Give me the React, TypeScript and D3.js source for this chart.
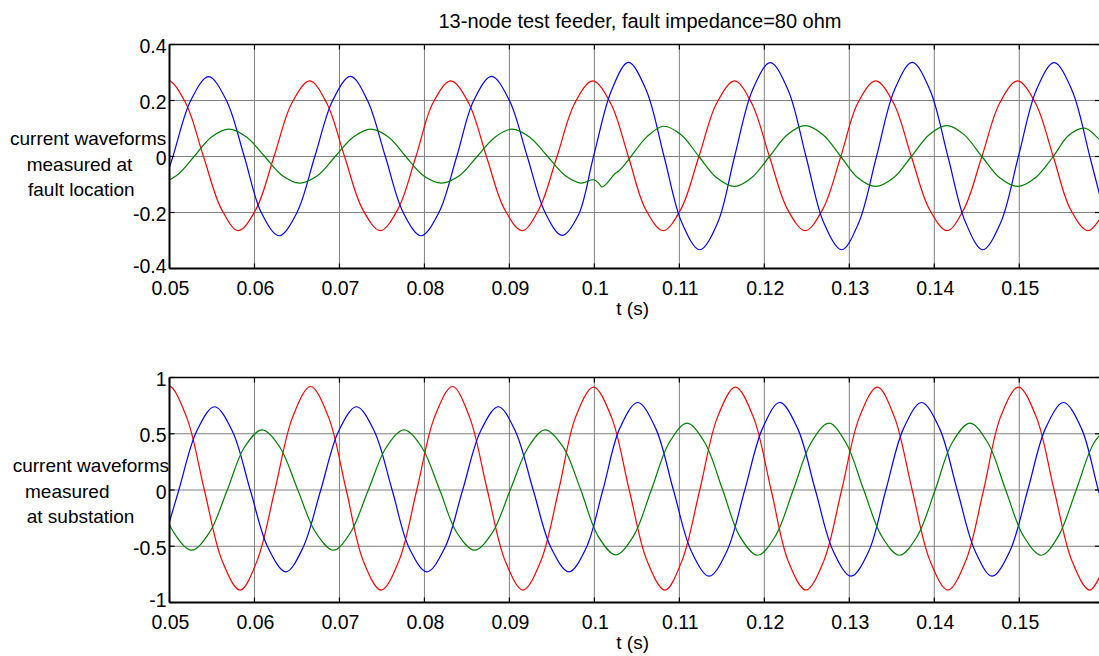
import * as d3 from "d3";

// time axis (s)
const xTicks = [0.05, 0.06, 0.07, 0.08, 0.09, 0.1, 0.11, 0.12, 0.13, 0.14, 0.15];
const xTickLabels = ["0.05", "0.06", "0.07", "0.08", "0.09", "0.1", "0.11", "0.12", "0.13", "0.14", "0.15"];
const xDomain = [0.05, 0.1595];

const topYTicks = [-0.4, -0.2, 0, 0.2, 0.4];
const topYLabels = ["-0.4", "-0.2", "0", "0.2", "0.4"];
const botYTicks = [-1, -0.5, 0, 0.5, 1];
const botYLabels = ["-1", "-0.5", "0", "0.5", "1"];

const title = "13-node test feeder, fault impedance=80 ohm";
const xLabel = "t (s)";
const topYLabel = ["current waveforms", "measured at", "fault location"];
const botYLabel = ["current waveforms", "measured", "at substation"];

// [t, current] — fault location
const faultRed: [number, number][] = [
  [0.0477, 0.191], [0.0498, 0.272], [0.0519, 0.191], [0.054, 0], [0.0561, -0.187], [0.0581, -0.265],
  [0.0602, -0.187], [0.0623, 0], [0.0644, 0.191], [0.0665, 0.27], [0.0685, 0.191], [0.0706, 0],
  [0.0727, -0.187], [0.0748, -0.265], [0.0769, -0.187], [0.079, 0], [0.081, 0.191], [0.0831, 0.27],
  [0.0852, 0.191], [0.0873, 0], [0.0894, -0.187], [0.0915, -0.265], [0.0935, -0.187], [0.0956, 0],
  [0.0977, 0.191], [0.0998, 0.27], [0.1019, 0.191], [0.104, 0], [0.106, -0.187], [0.1081, -0.265],
  [0.1102, -0.187], [0.1123, 0], [0.1144, 0.191], [0.1165, 0.27], [0.1185, 0.191], [0.1206, 0],
  [0.1227, -0.187], [0.1248, -0.265], [0.1269, -0.187], [0.129, 0], [0.131, 0.191], [0.1331, 0.27],
  [0.1352, 0.191], [0.1373, 0], [0.1394, -0.187], [0.1415, -0.265], [0.1435, -0.187], [0.1456, 0],
  [0.1477, 0.191], [0.1498, 0.27], [0.1519, 0.191], [0.154, 0], [0.156, -0.187], [0.1581, -0.265],
  [0.1602, -0.187],
];

const faultBlue: [number, number][] = [
  [0.0483, -0.2], [0.0504, 0], [0.0525, 0.2], [0.0546, 0.285], [0.0567, 0.2], [0.0588, 0],
  [0.0608, -0.2], [0.0629, -0.283], [0.065, -0.2], [0.0671, 0], [0.0692, 0.2], [0.0713, 0.286],
  [0.0733, 0.2], [0.0754, 0], [0.0775, -0.2], [0.0796, -0.283], [0.0817, -0.2], [0.0838, 0],
  [0.0858, 0.2], [0.0879, 0.286], [0.09, 0.2], [0.0921, 0], [0.0942, -0.2], [0.0962, -0.282],
  [0.0981, -0.21], [0.0999, 0], [0.102, 0.235], [0.104, 0.336], [0.1061, 0.237], [0.1082, 0],
  [0.1103, -0.237], [0.1124, -0.333], [0.1145, -0.237], [0.1165, 0], [0.1186, 0.237], [0.1207, 0.335],
  [0.1228, 0.237], [0.1249, 0], [0.127, -0.237], [0.1291, -0.333], [0.1311, -0.237], [0.1332, 0],
  [0.1353, 0.237], [0.1374, 0.336], [0.1395, 0.237], [0.1416, 0], [0.1437, -0.237], [0.1457, -0.333],
  [0.1478, -0.237], [0.1499, 0], [0.152, 0.237], [0.1541, 0.335], [0.1562, 0.237], [0.1583, 0],
  [0.1603, -0.237],
];

const faultGreen: [number, number][] = [
  [0.0466, -0.069], [0.0487, -0.095], [0.0508, -0.069], [0.0529, 0], [0.0549, 0.069], [0.057, 0.098],
  [0.0591, 0.069], [0.0612, 0], [0.0633, -0.069], [0.0653, -0.095], [0.0674, -0.069], [0.0695, 0],
  [0.0716, 0.069], [0.0737, 0.098], [0.0758, 0.069], [0.0778, 0], [0.0799, -0.069], [0.082, -0.095],
  [0.0841, -0.069], [0.0862, 0], [0.0883, 0.069], [0.0903, 0.098], [0.0924, 0.069], [0.0945, 0],
  [0.0966, -0.069], [0.0984, -0.095], [0.0999, -0.083], [0.1005, -0.095], [0.1009, -0.109],
  [0.1015, -0.095], [0.1023, -0.065], [0.103, -0.048], [0.104, -0.012], [0.1062, 0.071],
  [0.1081, 0.108], [0.1102, 0.078], [0.1123, 0], [0.1144, -0.076], [0.1165, -0.107], [0.1185, -0.076],
  [0.1206, 0], [0.1227, 0.078], [0.1248, 0.11], [0.1269, 0.078], [0.129, 0], [0.131, -0.076],
  [0.1331, -0.107], [0.1352, -0.076], [0.1373, 0], [0.1394, 0.078], [0.1415, 0.11], [0.1435, 0.078],
  [0.1456, 0], [0.1477, -0.076], [0.1498, -0.107], [0.1519, -0.076], [0.154, 0], [0.1558, 0.075],
  [0.1577, 0.101], [0.1594, 0.062], [0.1602, 0.04],
];

// [t, current] — substation
const subRed: [number, number][] = [
  [0.0478, 0.65], [0.0499, 0.925], [0.052, 0.65], [0.0541, 0], [0.0562, -0.63], [0.0583, -0.89],
  [0.0603, -0.63], [0.0624, 0], [0.0645, 0.65], [0.0666, 0.92], [0.0687, 0.65], [0.0708, 0],
  [0.0728, -0.63], [0.0749, -0.89], [0.077, -0.63], [0.0791, 0], [0.0812, 0.65], [0.0833, 0.92],
  [0.0853, 0.65], [0.0874, 0], [0.0895, -0.63], [0.0916, -0.89], [0.0937, -0.63], [0.0958, 0],
  [0.0978, 0.65], [0.0999, 0.915], [0.102, 0.65], [0.1041, 0], [0.1062, -0.63], [0.1083, -0.89],
  [0.1103, -0.63], [0.1124, 0], [0.1145, 0.65], [0.1166, 0.915], [0.1187, 0.65], [0.1208, 0],
  [0.1228, -0.63], [0.1249, -0.89], [0.127, -0.63], [0.1291, 0], [0.1312, 0.65], [0.1333, 0.915],
  [0.1353, 0.65], [0.1374, 0], [0.1395, -0.63], [0.1416, -0.89], [0.1437, -0.63], [0.1458, 0],
  [0.1478, 0.65], [0.1499, 0.915], [0.152, 0.65], [0.1541, 0], [0.1562, -0.63], [0.1583, -0.89],
  [0.1603, -0.63],
];

const subBlue: [number, number][] = [
  [0.0491, -0.514], [0.0511, 0], [0.0532, 0.523], [0.0553, 0.74], [0.0574, 0.523], [0.0595, 0],
  [0.0616, -0.514], [0.0637, -0.727], [0.0657, -0.514], [0.0678, 0], [0.0699, 0.523], [0.072, 0.74],
  [0.0741, 0.523], [0.0762, 0], [0.0782, -0.514], [0.0803, -0.727], [0.0824, -0.514], [0.0845, 0],
  [0.0866, 0.523], [0.0887, 0.74], [0.0907, 0.523], [0.0928, 0], [0.0949, -0.514], [0.097, -0.727],
  [0.099, -0.52], [0.101, 0], [0.103, 0.55], [0.1051, 0.778], [0.1072, 0.55], [0.1093, 0],
  [0.1114, -0.542], [0.1135, -0.766], [0.1156, -0.542], [0.1177, 0], [0.1198, 0.55], [0.1218, 0.778],
  [0.1239, 0.55], [0.126, 0], [0.1281, -0.542], [0.1302, -0.766], [0.1323, -0.542], [0.1343, 0],
  [0.1364, 0.55], [0.1385, 0.778], [0.1406, 0.55], [0.1427, 0], [0.1448, -0.542], [0.1468, -0.766],
  [0.1489, -0.542], [0.151, 0], [0.1531, 0.55], [0.1552, 0.778], [0.1573, 0.55], [0.1593, 0],
  [0.1614, -0.542],
];

const subGreen: [number, number][] = [
  [0.0484, 0], [0.0505, -0.378], [0.0526, -0.535], [0.0547, -0.378], [0.0568, 0], [0.0588, 0.378],
  [0.0609, 0.535], [0.063, 0.378], [0.0651, 0], [0.0672, -0.378], [0.0693, -0.535], [0.0713, -0.378],
  [0.0734, 0], [0.0755, 0.378], [0.0776, 0.535], [0.0797, 0.378], [0.0818, 0], [0.0838, -0.378],
  [0.0859, -0.535], [0.088, -0.378], [0.0901, 0], [0.0922, 0.378], [0.0942, 0.535], [0.0963, 0.385],
  [0.0984, 0], [0.1004, -0.405], [0.1025, -0.576], [0.1046, -0.41], [0.1067, 0], [0.1088, 0.42],
  [0.1109, 0.594], [0.113, 0.42], [0.1151, 0], [0.1171, -0.41], [0.1192, -0.58], [0.1213, -0.41],
  [0.1234, 0], [0.1255, 0.42], [0.1276, 0.594], [0.1296, 0.42], [0.1317, 0], [0.1338, -0.41],
  [0.1359, -0.58], [0.138, -0.41], [0.1401, 0], [0.1421, 0.42], [0.1442, 0.594], [0.1463, 0.42],
  [0.1484, 0], [0.1505, -0.41], [0.1526, -0.58], [0.1546, -0.41], [0.1567, 0], [0.1588, 0.42],
  [0.1609, 0.594],
];

const W = 1099;
const H = 656;
const left = 169.5;
const right = 1100;
const font = "'Liberation Sans', Arial, Helvetica, sans-serif";
const tickLen = 5;

const x = d3.scaleLinear().domain(xDomain).range([left, right]);

type PanelProps = {
  id: string;
  top: number;
  bottom: number;
  yDomain: [number, number];
  yTicks: number[];
  yLabels: string[];
  label: string[];
  labelX: number[];
  labelY: number;
  series: { data: [number, number][]; color: string }[];
};

const Panel = ({ id, top, bottom, yDomain, yTicks, yLabels, label, labelX, labelY, series }: PanelProps) => {
  const y = d3.scaleLinear().domain(yDomain).range([bottom, top]);
  const line = d3
    .line<[number, number]>()
    .x((d) => x(d[0]))
    .y((d) => y(d[1]))
    .curve(d3.curveCatmullRom.alpha(0.5));

  return (
    <g fontFamily={font} fill="#000">
      <defs>
        <clipPath id={id}>
          <rect x={left} y={top} width={right - left} height={bottom - top} />
        </clipPath>
      </defs>

      {/* grid */}
      {xTicks.map((t) => (
        <line key={"gx" + t} x1={x(t)} x2={x(t)} y1={top} y2={bottom} stroke="#808080" strokeWidth={1} />
      ))}
      {yTicks.map((v) => (
        <line key={"gy" + v} x1={left} x2={right} y1={y(v)} y2={y(v)} stroke="#808080" strokeWidth={1} />
      ))}

      {/* waveforms */}
      <g clipPath={`url(#${id})`}>
        {series.map((s, i) => (
          <path key={i} d={line(s.data) ?? ""} fill="none" stroke={s.color} strokeWidth={1.2} />
        ))}
      </g>

      {/* box + inward ticks */}
      <line x1={left} x2={right} y1={top} y2={top} stroke="#000" strokeWidth={1.3} />
      <line x1={left} x2={right} y1={bottom} y2={bottom} stroke="#000" strokeWidth={2} />
      <line x1={left} x2={left} y1={top} y2={bottom} stroke="#000" strokeWidth={2} />
      {xTicks.map((t) => (
        <g key={"tx" + t} stroke="#000" strokeWidth={1.2}>
          <line x1={x(t)} x2={x(t)} y1={bottom} y2={bottom - tickLen} />
          <line x1={x(t)} x2={x(t)} y1={top} y2={top + tickLen} />
        </g>
      ))}
      {yTicks.map((v) => (
        <g key={"ty" + v} stroke="#000" strokeWidth={1.2}>
          <line x1={left} x2={left + tickLen} y1={y(v)} y2={y(v)} />
          <line x1={right - tickLen} x2={right} y1={y(v)} y2={y(v)} />
        </g>
      ))}

      {/* tick labels */}
      {xTicks.map((t, i) => (
        <text key={"lx" + t} x={x(t) + 1} y={bottom + 26} fontSize={19.5} textAnchor="middle">
          {xTickLabels[i]}
        </text>
      ))}
      {yTicks.map((v, i) => (
        <text
          key={"ly" + v}
          x={left - 3}
          y={y(v) + (i === 0 ? 4.5 : 8.5)}
          fontSize={19.5}
          textAnchor="end"
        >
          {yLabels[i]}
        </text>
      ))}

      <text x={x(0.1045)} y={bottom + 46} fontSize={19} textAnchor="middle">
        {xLabel}
      </text>

      {label.map((s, i) => (
        <text key={s} x={labelX[i]} y={labelY + i * 25.5} fontSize={19}>
          {s}
        </text>
      ))}
    </g>
  );
};

export default function App() {
  return (
    <svg width={W} height={H} style={{ position: "absolute", left: 0, top: 0, background: "#fff" }}>
      <rect width={W} height={H} fill="#fff" />
      <text x={640} y={28} fontFamily={font} fontSize={20} textAnchor="middle">
        {title}
      </text>
      <Panel
        id="clip-fault"
        top={44.5}
        bottom={268.5}
        yDomain={[-0.4, 0.4]}
        yTicks={topYTicks}
        yLabels={topYLabels}
        label={topYLabel}
        labelX={[10, 26.7, 28]}
        labelY={145}
        series={[
          { data: faultRed, color: "#ff0000" },
          { data: faultBlue, color: "#0000ff" },
          { data: faultGreen, color: "#008000" },
        ]}
      />
      <Panel
        id="clip-sub"
        top={377.5}
        bottom={602.5}
        yDomain={[-1, 1]}
        yTicks={botYTicks}
        yLabels={botYLabels}
        label={botYLabel}
        labelX={[12.7, 25, 26.7]}
        labelY={472}
        series={[
          { data: subRed, color: "#ff0000" },
          { data: subBlue, color: "#0000ff" },
          { data: subGreen, color: "#008000" },
        ]}
      />
    </svg>
  );
}
